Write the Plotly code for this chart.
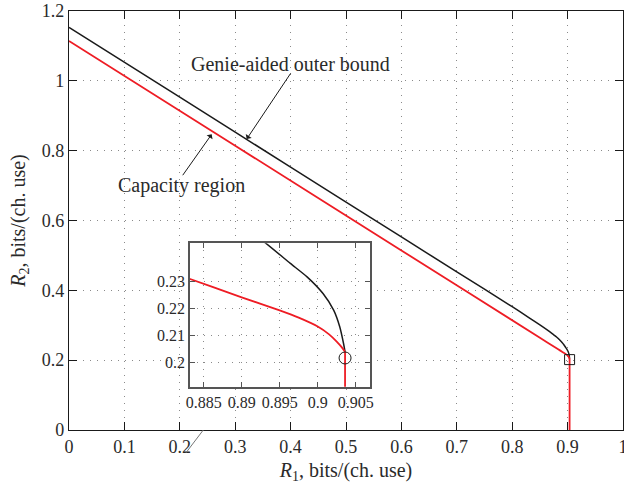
import plotly.graph_objects as go

# Genie-aided outer bound (black)
outer_r1 = [0.0, 0.2, 0.4, 0.6, 0.7, 0.8, 0.83, 0.85, 0.865, 0.875, 0.88, 0.885,
            0.89, 0.893, 0.8964, 0.8986, 0.9007, 0.9021, 0.9029, 0.9034, 0.9036]
outer_r2 = [1.153, 0.953, 0.753, 0.553, 0.453, 0.353, 0.322, 0.301, 0.2845, 0.2725,
            0.2665, 0.259, 0.2505, 0.2447, 0.2368, 0.2318, 0.2256, 0.2194, 0.2132,
            0.2070, 0.2039]

# Capacity region (red): curved part, then the vertical drop at the corner rate
cap_r1 = [0.0, 0.3, 0.6, 0.85, 0.883, 0.89, 0.895, 0.8975, 0.9, 0.9015, 0.9025,
          0.9031, 0.9036]
cap_r2 = [1.1142, 0.8142, 0.5142, 0.2642, 0.2312, 0.2242, 0.2193, 0.2166, 0.2133,
          0.2104, 0.2077, 0.2058, 0.2039]
drop_r1 = [0.9036, 0.9036]
drop_r2 = [0.2039, 0.0]

corner_r1 = [0.9036]
corner_r2 = [0.2016]

main_xticks = [0, 0.1, 0.2, 0.3, 0.4, 0.5, 0.6, 0.7, 0.8, 0.9, 1]
main_xlabels = ["0", "0.1", "0.2", "0.3", "0.4", "0.5", "0.6", "0.7", "0.8", "0.9", "1"]
main_yticks = [0, 0.2, 0.4, 0.6, 0.8, 1.0, 1.2]
main_ylabels = ["0", "0.2", "0.4", "0.6", "0.8", "1", "1.2"]
inset_xticks = [0.885, 0.89, 0.895, 0.9, 0.905]
inset_xlabels = ["0.885", "0.89", "0.895", "0.9", "0.905"]
inset_yticks = [0.2, 0.21, 0.22, 0.23]
inset_ylabels = ["0.2", "0.21", "0.22", "0.23"]

BLACK = "#1a1a1a"
RED = "#ee1c24"
FONT = "Liberation Serif"
TXT = "#2a2a2a"

fig = go.Figure()

for xa, ya in [("x", "y"), ("x2", "y2")]:
    fig.add_trace(go.Scatter(x=outer_r1, y=outer_r2, mode="lines",
                             line=dict(color=BLACK, width=1.5, shape="spline", smoothing=0.6),
                             xaxis=xa, yaxis=ya, showlegend=False))
    fig.add_trace(go.Scatter(x=cap_r1, y=cap_r2, mode="lines",
                             line=dict(color=RED, width=1.8, shape="spline", smoothing=0.6),
                             xaxis=xa, yaxis=ya, showlegend=False))
    fig.add_trace(go.Scatter(x=drop_r1, y=drop_r2, mode="lines",
                             line=dict(color=RED, width=1.8),
                             xaxis=xa, yaxis=ya, showlegend=False))

fig.add_trace(go.Scatter(x=corner_r1, y=corner_r2, mode="markers",
                         marker=dict(symbol="square-open", size=10,
                                     color=BLACK, line=dict(width=1)),
                         xaxis="x", yaxis="y", showlegend=False, cliponaxis=False))
fig.add_trace(go.Scatter(x=corner_r1, y=corner_r2, mode="markers",
                         marker=dict(symbol="circle-open", size=12,
                                     color=BLACK, line=dict(width=1)),
                         xaxis="x2", yaxis="y2", showlegend=False, cliponaxis=False))

grid = dict(showgrid=True, gridcolor="#8a8a8a", gridwidth=1, griddash="1px,6px")
tickfont = dict(family=FONT, size=18, color=TXT)
insetfont = dict(family=FONT, size=16, color=TXT)

fig.update_layout(
    width=624, height=484,
    margin=dict(l=69, r=1, t=11, b=54),
    paper_bgcolor="white", plot_bgcolor="white",
    font=dict(family=FONT, size=18, color=TXT),
    xaxis=dict(domain=[0, 1], range=[0, 1], tickvals=main_xticks, ticktext=main_xlabels,
               ticks="inside", ticklen=8, tickcolor=BLACK, showline=True, linecolor=BLACK,
               linewidth=1.2, mirror="ticks", zeroline=False, tickfont=tickfont,
               automargin=False, ticklabeloverflow="allow",
               title=dict(text="<i>R</i><sub>1</sub>, bits/(ch. use)", standoff=8,
                          font=dict(family=FONT, size=20)), **grid),
    yaxis=dict(domain=[0, 1], range=[0, 1.2], tickvals=main_yticks, ticktext=main_ylabels,
               ticks="inside", ticklen=8, tickcolor=BLACK, showline=True, linecolor=BLACK,
               linewidth=1.2, mirror="ticks", zeroline=False, tickfont=tickfont,
               automargin=False, ticklabeloverflow="allow",
               title=dict(text="<i>R</i><sub>2</sub>, bits/(ch. use)", standoff=10,
                          font=dict(family=FONT, size=20)), **grid),
    xaxis2=dict(domain=[0.2184, 0.5433], range=[0.8832, 0.90688], anchor="y2",
                tickvals=inset_xticks, ticktext=inset_xlabels,
                ticks="inside", ticklen=5, tickcolor="#555", showline=True, linecolor="#555",
                linewidth=1.5, mirror="ticks", zeroline=False, tickfont=insetfont,
                automargin=False, **grid),
    yaxis2=dict(domain=[0.1033, 0.4456], range=[0.1909, 0.2443], anchor="x2",
                tickvals=inset_yticks, ticktext=inset_ylabels,
                ticks="inside", ticklen=5, tickcolor="#555", showline=True, linecolor="#555",
                linewidth=1.5, mirror="ticks", zeroline=False, tickfont=insetfont,
                automargin=False, **grid),
)

# white background behind the inset
fig.add_shape(type="rect", xref="x2 domain", yref="y2 domain", x0=0, x1=1, y0=0, y1=1,
              fillcolor="white", line=dict(width=0), layer="below")
# small leader stroke near the x axis
fig.add_shape(type="line", xref="paper", yref="paper", x0=0.2424, y0=0.0,
              x1=0.2112, y1=-0.0542, line=dict(color="#777", width=1))

fig.add_annotation(x=0.3208, y=0.8333, ax=0.402, ay=1.026, xref="x", yref="y",
                   axref="x", ayref="y", text="", showarrow=True, arrowhead=1,
                   arrowsize=1.2, arrowwidth=1, arrowcolor=BLACK)
fig.add_annotation(x=0.2575, y=0.8468, ax=0.2034, ay=0.7254, xref="x", yref="y",
                   axref="x", ayref="y", text="", showarrow=True, arrowhead=1,
                   arrowsize=1.2, arrowwidth=1, arrowcolor=BLACK)
fig.add_annotation(x=0.399, y=1.048, xref="x", yref="y", text="Genie-aided outer bound",
                   showarrow=False, font=dict(family=FONT, size=20, color=TXT))
fig.add_annotation(x=0.2022, y=0.6996, xref="x", yref="y", text="Capacity region",
                   showarrow=False, font=dict(family=FONT, size=20, color=TXT))

fig.write_html("out.html", config={"displayModeBar": False},
               post_script="document.body.style.margin='0px';document.body.style.overflow='hidden';")
